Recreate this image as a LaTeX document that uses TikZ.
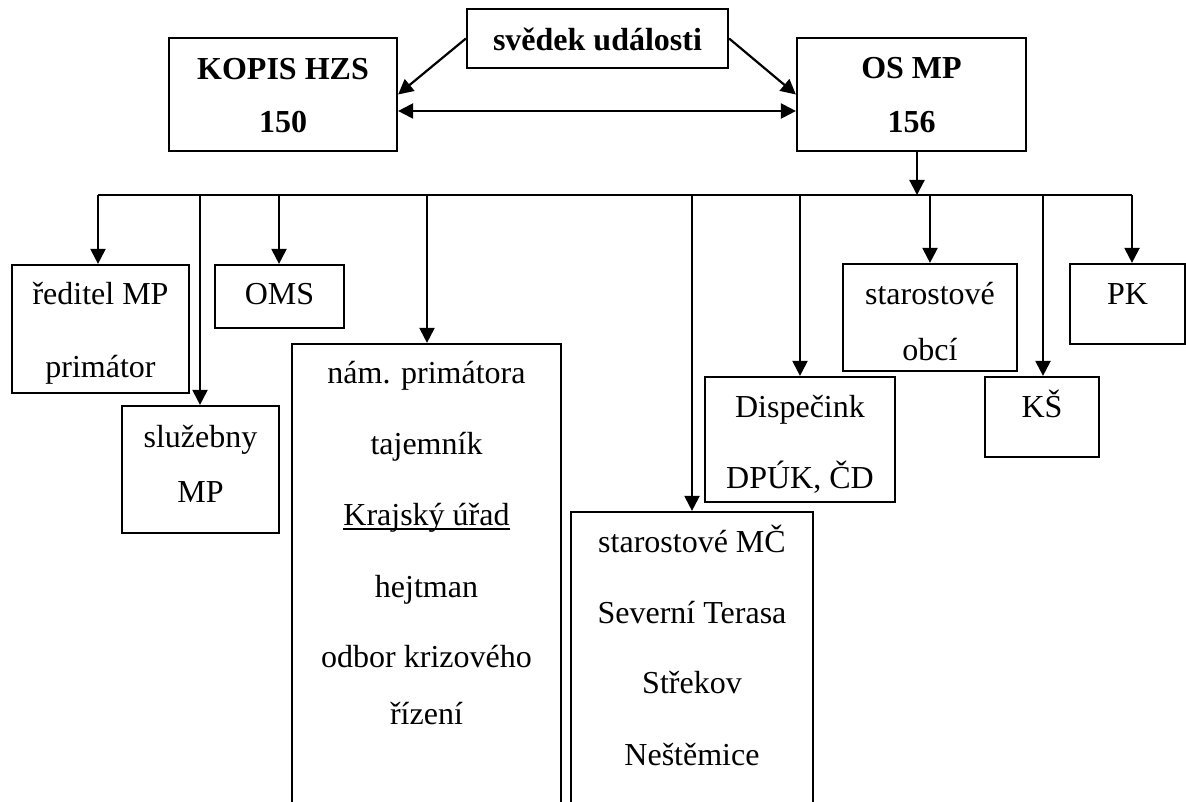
\documentclass[tikz,border=0pt]{standalone}
\usepackage{fontspec}
\setmainfont{Liberation Serif}
\usetikzlibrary{arrows.meta}
\newcommand{\thickul}[1]{\setbox0\hbox{#1}\rlap{\rule[-5pt]{\wd0}{1.8pt}}\box0}

\begin{document}
\begin{tikzpicture}[x=1pt,y=-1pt,line width=2.2pt,>={Triangle[length=15pt,width=15pt]}]
\tikzstyle{box}=[draw,rectangle,inner sep=0pt]
\tikzstyle{txt}=[font=\fontsize{32}{38}\selectfont,anchor=base,inner sep=0pt]
\tikzstyle{head}=[txt,font=\fontsize{32}{38}\selectfont\bfseries]
\useasboundingbox (0,0) rectangle (1186,802);
\clip (0,0) rectangle (1186,802);
% boxes: name/centre/width/height
\foreach \name/\point/\w/\h in {
	kopis/{283,94.5}/228/113,
	svedek/{597.5,38.5}/261/59,
	osmp/{911.5,94.5}/229/113,
	reditel/{100.5,329}/177/128,
	oms/{279.5,296.5}/129/63,
	sluzebny/{200.5,469.5}/157/127,
	nam/{426.5,587}/269/486,
	mc/{692,671}/242/318,
	dispecink/{800,439.5}/190/125,
	obci/{930,317.5}/174/107,
	ks/{1042,417}/114/80,
	pk/{1127.5,304}/115/80}
	\node[box,minimum width=\w pt,minimum height=\h pt] (\name) at (\point) {};
% bold labels
\foreach \t/\point [count=\i] in {
	KOPIS HZS/{283,80},
	150/{283,133},
	svědek události/{597.5,51},
	OS MP/{911.5,79},
	156/{911.5,133}}
	\node[head] (h\i) at (\point) {\t};
% plain labels
\foreach \t/\point [count=\i] in {
	ředitel MP/{100.5,305},
	primátor/{100.5,377},
	OMS/{279.5,305},
	služebny/{200.5,447},
	MP/{200.5,502},
	nám. primátora/{426.5,383},
	tajemník/{426.5,454},
	\thickul{Krajský úřad}/{426.5,525},
	hejtman/{426.5,597},
	odbor krizového/{426.5,667},
	řízení/{426.5,724},
	starostové MČ/{692,552},
	Severní Terasa/{692,623},
	Střekov/{692,693},
	Neštěmice/{692,765},
	Dispečink/{800,417},
	{DPÚK, ČD}/{800,488},
	starostové/{930,305},
	obcí/{930,360},
	KŠ/{1042,417},
	PK/{1127.5,305}}
	\node[txt] (t\i) at (\point) {\t};
% top arrows
\draw[->] (svedek.west) -- (kopis.east);
\draw[->] (svedek.east) -- (osmp.west);
\draw[<->] ([yshift=-16.5pt]kopis.east) -- ([yshift=-16.5pt]osmp.west);
\coordinate (bus) at (917,195);
\coordinate (busl) at (98,195);
\coordinate (busr) at (1132,195);
\draw[->] ([xshift=5.5pt]osmp.south) -- (bus);
\draw (busl) -- (busr);
% drops
\foreach \target/\x in {reditel/98,sluzebny/200,oms/279,nam/427,mc/692,dispecink/800,obci/930,ks/1043,pk/1132}{
	\coordinate (b-\target) at (\x,195);
	\draw[->] (b-\target) -- (\target.north -| b-\target);
}
\end{tikzpicture}
\end{document}
